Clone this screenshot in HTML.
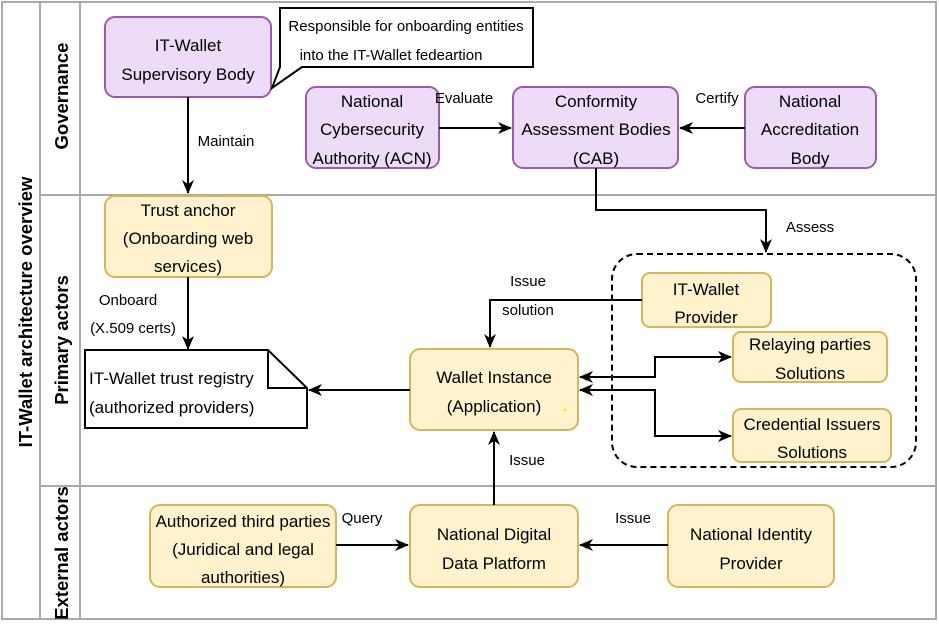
<!DOCTYPE html>
<html><head><meta charset="utf-8"><style>
html,body{margin:0;padding:0;background:#fff}
svg{display:block;font-family:"Liberation Sans",sans-serif}
</style></head><body>
<svg width="939" height="624" viewBox="0 0 939 624" xmlns="http://www.w3.org/2000/svg">
<defs>
<marker id="a" markerWidth="14" markerHeight="14" refX="13" refY="7" orient="auto" markerUnits="userSpaceOnUse"><path d="M0,1 L14,7 L0,13 L4,7 Z" fill="#000"/></marker>
<marker id="s" markerWidth="14" markerHeight="14" refX="1" refY="7" orient="auto" markerUnits="userSpaceOnUse"><path d="M14,1 L0,7 L14,13 L10,7 Z" fill="#000"/></marker>
</defs>
<g fill="none" stroke="#aaa" stroke-width="2">
<rect x="2" y="2" width="934" height="617"/>
<line x1="40" y1="2" x2="40" y2="619"/>
<line x1="80" y1="2" x2="80" y2="619"/>
<line x1="40" y1="195" x2="936" y2="195"/>
<line x1="40" y1="486" x2="936" y2="486"/>
</g>
<g font-weight="bold" font-size="18.5" fill="#000" text-anchor="middle">
<text transform="translate(32,312) rotate(-90)">IT-Wallet architecture overview</text>
<text transform="translate(68,96) rotate(-90)">Governance</text>
<text transform="translate(68,340) rotate(-90)">Primary actors</text>
<text transform="translate(68,553) rotate(-90)">External actors</text>
</g>
<g stroke-width="2">
<g fill="#ecdcf8" stroke="#9d5bb0">
<rect x="105" y="17" width="166" height="80" rx="10"/>
<rect x="306" y="87" width="133" height="81" rx="10"/>
<rect x="513" y="87" width="165" height="81" rx="10"/>
<rect x="745" y="87" width="131" height="81" rx="10"/>
</g>
<g fill="#fff2cc" stroke="#d6b656">
<rect x="105" y="196" width="167" height="81" rx="10"/>
<rect x="410" y="349" width="168" height="81" rx="10"/>
<rect x="642" y="273" width="129" height="54" rx="8"/>
<rect x="733" y="332" width="154" height="50" rx="8"/>
<rect x="733" y="409" width="158" height="53" rx="8"/>
<rect x="150" y="505" width="186" height="82" rx="10"/>
<rect x="410" y="505" width="168" height="82" rx="10"/>
<rect x="668" y="505" width="166" height="82" rx="10"/>
</g>
<path d="M280,8 H533 V67 H302 L272,88 L280,67 Z" fill="#fff" stroke="#000"/>
<path d="M85,350 H268 L307,388 V428 H85 Z" fill="#fff" stroke="#000"/>
<path d="M268,350 V388 H307" fill="none" stroke="#000"/>
<rect x="612" y="254" width="304" height="213" rx="25" fill="none" stroke="#000" stroke-dasharray="6,4"/>
</g>
<g fill="none" stroke="#000" stroke-width="2">
<path d="M188,97 V193" marker-end="url(#a)"/>
<path d="M439,128 H511" marker-end="url(#a)"/>
<path d="M745,128 H680" marker-end="url(#a)"/>
<path d="M596,168 V210 H766 V252" marker-end="url(#a)"/>
<path d="M188,277 V349" marker-end="url(#a)"/>
<path d="M410,390 H309" marker-end="url(#a)"/>
<path d="M642,300 H490 V347" marker-end="url(#a)"/>
<path d="M580,377 H655 V357 H731" marker-start="url(#s)" marker-end="url(#a)"/>
<path d="M580,390 H655 V436 H731" marker-start="url(#s)" marker-end="url(#a)"/>
<path d="M494,505 V432" marker-end="url(#a)"/>
<path d="M336,545 H408" marker-end="url(#a)"/>
<path d="M668,545 H580" marker-end="url(#a)"/>
</g>
<g font-size="17" fill="#000" text-anchor="middle">
<text x="188" y="51">IT-Wallet</text><text x="188" y="80">Supervisory Body</text>
<text x="372" y="107">National</text><text x="372" y="135">Cybersecurity</text><text x="372" y="164">Authority (ACN)</text>
<text x="596" y="107">Conformity</text><text x="596" y="135">Assessment Bodies</text><text x="596" y="164">(CAB)</text>
<text x="810" y="107">National</text><text x="810" y="135">Accreditation</text><text x="810" y="164">Body</text>
<text x="188" y="216">Trust anchor</text><text x="188" y="244">(Onboarding web</text><text x="188" y="272">services)</text>
<text x="494" y="383">Wallet Instance</text><text x="494" y="412">(Application)</text>
<text x="706" y="295">IT-Wallet</text><text x="706" y="323">Provider</text>
<text x="810" y="350">Relaying parties</text><text x="810" y="379">Solutions</text>
<text x="812" y="430">Credential Issuers</text><text x="812" y="458">Solutions</text>
<text x="243" y="527">Authorized third parties</text><text x="243" y="555">(Juridical and legal</text><text x="243" y="583">authorities)</text>
<text x="494" y="540">National Digital</text><text x="494" y="569">Data Platform</text>
<text x="751" y="540">National Identity</text><text x="751" y="569">Provider</text>
<text x="89" y="384" text-anchor="start">IT-Wallet trust registry</text><text x="89" y="413" text-anchor="start">(authorized providers)</text>
</g>
<g font-size="15" fill="#000" text-anchor="middle">
<text x="406" y="31">Responsible for onboarding entities</text>
<text x="391" y="60">into the IT-Wallet fedeartion</text>
<text x="226" y="146">Maintain</text>
<text x="464" y="103">Evaluate</text>
<text x="717" y="103">Certify</text>
<text x="810" y="232">Assess</text>
<text x="128" y="305">Onboard</text>
<text x="133" y="333">(X.509 certs)</text>
<text x="528" y="286">Issue</text>
<text x="528" y="315">solution</text>
<text x="527" y="465">Issue</text>
<text x="362" y="523">Query</text>
<text x="633" y="523">Issue</text>
</g>
<circle cx="565" cy="410" r="1.5" fill="#ee0"/>
</svg>
</body></html>
